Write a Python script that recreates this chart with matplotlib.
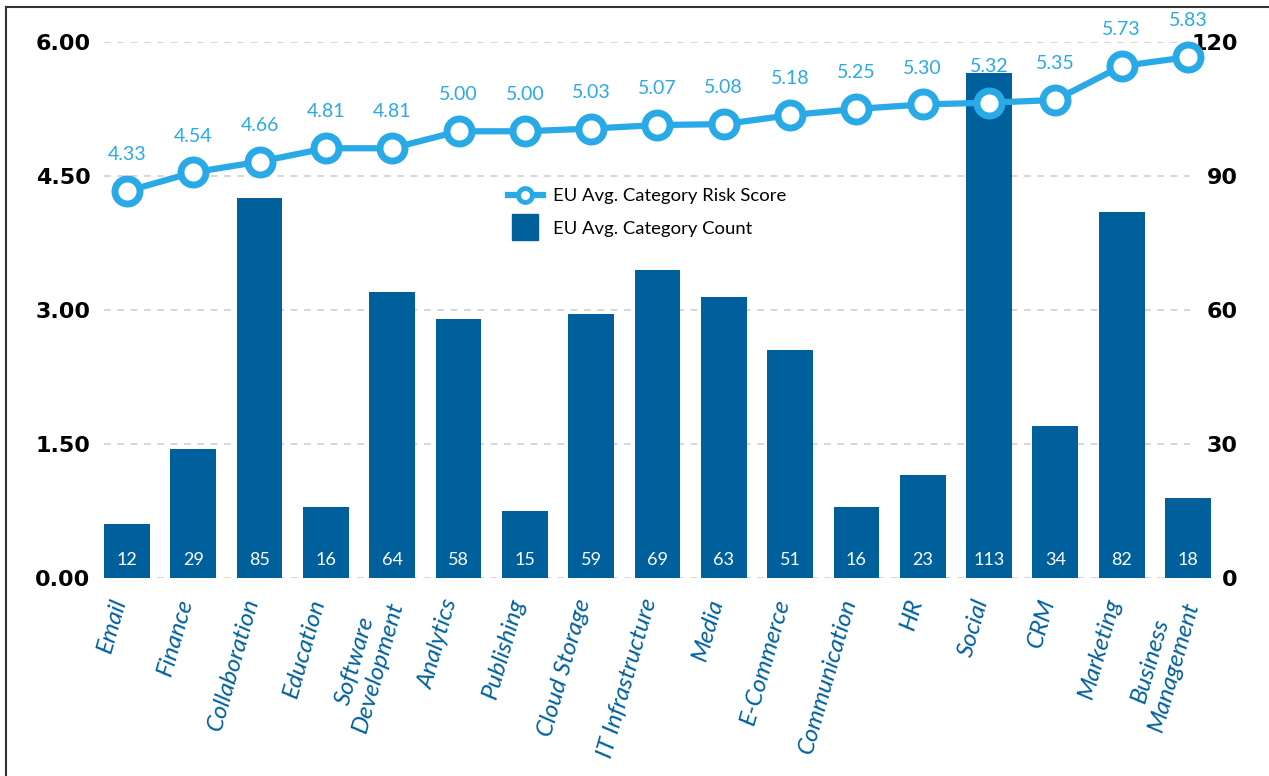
import matplotlib.pyplot as plt
from matplotlib.lines import Line2D
from matplotlib.transforms import ScaledTranslation

categories = ['Email', 'Finance', 'Collaboration', 'Education', 'Software\nDevelopment',
              'Analytics', 'Publishing', 'Cloud Storage', 'IT Infrastructure', 'Media',
              'E-Commerce', 'Communication', 'HR', 'Social', 'CRM', 'Marketing',
              'Business\nManagement']
risk_scores = [4.33, 4.54, 4.66, 4.81, 4.81, 5.00, 5.00, 5.03, 5.07, 5.08,
               5.18, 5.25, 5.30, 5.32, 5.35, 5.73, 5.83]
counts = [12, 29, 85, 16, 64, 58, 15, 59, 69, 63, 51, 16, 23, 113, 34, 82, 18]
left_ticks = [0, 1.5, 3.0, 4.5, 6.0]
right_ticks = [0, 30, 60, 90, 120]

bar_color = '#00609C'
line_color = '#29AAE6'

plt.rcParams['font.family'] = ['Lato', 'DejaVu Sans']

fig = plt.figure(figsize=(12.69, 7.76), dpi=100)
ax = fig.add_axes([0.0713, 0.255, 0.8936, 0.691])
ax2 = ax.twinx()

x = list(range(len(categories)))

# counts as bars, scale on the right
ax.bar(x, counts, width=0.69, color=bar_color, zorder=2)
for xi, c in zip(x, counts):
    ax.text(xi, 4.0, str(c), ha='center', va='center', color='white', fontsize=13)
ax.set_ylim(0, 120)
ax.set_yticks(right_ticks)
ax.yaxis.tick_right()
ax.set_xlim(-0.55, len(categories) - 0.45)
ax.set_xticks(x)
ax.set_xticklabels(categories, rotation=74, ha='right', va='center',
                   rotation_mode='anchor', fontsize=17.5, color=bar_color,
                   fontstyle='italic', multialignment='center')
ax.tick_params(axis='x', length=0, pad=15)
# nudge the slanted category names a little to the left
shift = ScaledTranslation(-0.07, 0, fig.dpi_scale_trans)
for tick in ax.xaxis.get_major_ticks():
    tick.label1.set_transform(tick.label1.get_transform() + shift)
ax.tick_params(axis='y', length=0, pad=9.7, labelsize=16, right=False, labelright=True)
for lab in ax.get_yticklabels():
    lab.set_fontweight('bold')
    lab.set_family('DejaVu Sans')
    lab.set_horizontalalignment('right')

# risk score line, scale on the left
ax2.plot(x, risk_scores, color=line_color, lw=4.5, marker='o', ms=18,
         mfc='white', mec=line_color, mew=5, zorder=3, clip_on=False)
for xi, r in zip(x, risk_scores):
    ax2.annotate(f'{r:.2f}', (xi, r), xytext=(0, 20), textcoords='offset points',
                 ha='center', va='bottom', color=line_color, fontsize=14)
ax2.set_ylim(0, 6)
ax2.set_yticks(left_ticks)
ax2.set_yticklabels([f'{t:.2f}' for t in left_ticks])
ax2.yaxis.tick_left()
ax2.tick_params(axis='y', length=0, pad=0, labelsize=16, left=False, labelleft=True,
                right=False, labelright=False)
for lab in ax2.get_yticklabels():
    lab.set_fontweight('bold')
    lab.set_family('DejaVu Sans')

# dashed gridlines
ax.hlines(right_ticks, -0.35, 16.03, colors='#d0d0d0', linestyles=(0, (4, 4)),
          lw=1.2, zorder=0)
for a in (ax, ax2):
    for s in a.spines.values():
        s.set_visible(False)

handles = [
    Line2D([0], [0], color=line_color, lw=4.5, marker='o', ms=10, mfc='white',
           mec=line_color, mew=3.5),
    Line2D([0], [0], ls='none', marker='s', ms=19, color=bar_color),
]
ax2.legend(handles, ['EU Avg. Category Risk Score', 'EU Avg. Category Count'],
           loc='upper left', bbox_to_anchor=(0.368, 0.727), frameon=False,
           borderpad=0, borderaxespad=0, fontsize=13.3, handlelength=1.9,
           handletextpad=0.55, labelspacing=0.88)

# frame lines along the top and left edges
fig.add_artist(Line2D([0.005, 0.005], [0, 0.991], color='#333333', lw=1.5))
fig.add_artist(Line2D([0.005, 1.0], [0.991, 0.991], color='#333333', lw=1.5))

fig.savefig('out.png')
